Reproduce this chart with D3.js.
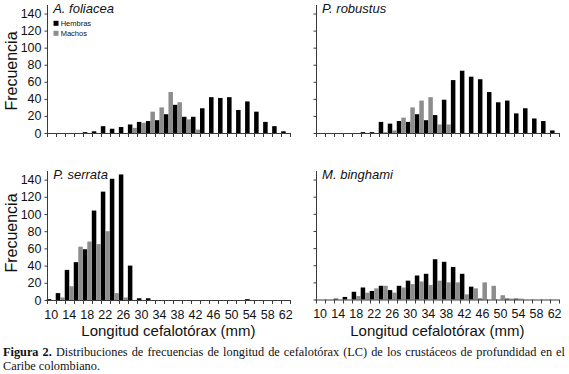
<!DOCTYPE html>
<html><head><meta charset="utf-8">
<script src="https://cdn.jsdelivr.net/npm/d3@7"></script>
<style>
html,body{margin:0;padding:0;background:#fff;}
svg{display:block;}
</style>
</head><body>
<svg id="chart" width="569" height="374"></svg>
<script>
// ---- data ----
const categories = ["10","12","14","16","18","20","22","24","26","28","30","32","34","36","38","40","42","44","46","48","50","52","54","56","58","60","62"];
const xTickLabels = ["10","14","18","22","26","30","34","38","42","46","50","54","58","62"];
const yTickValues = [0,20,40,60,80,100,120,140];
const seriesNames = ["Hembras","Machos"];
const speciesNames = ["A. foliacea","P. robustus","P. serrata","M. binghami"];

const foliaceaHembras = [0,0,0,0,1,2,8,5,7,10,13,14,15,22,33,19,19,29,42,41,42,27,37,25,13,8,2];
const foliaceaMachos  = [0,0,0,0,0,0,0,0,0,6,12,25,30,48,36,16,4,0,0,0,0,0,0,0,0,0,0];
const robustusHembras = [0,0,0,0,0,1,1,13,11,14,13,22,15,21,39,62,73,66,63,48,36,38,23,29,17,14,3];
const robustusMachos  = [0,0,0,0,0,0,0,1,3,18,30,38,42,10,10,0,0,0,0,0,0,0,0,0,0,0,0];
const serrataHembras  = [1,8,35,44,59,104,126,141,146,40,2,2,0,0,0,0,0,0,0,0,0,0,1,0,0,0,0];
const serrataMachos   = [0,3,16,62,68,65,80,8,3,0,0,0,0,0,0,0,0,0,0,0,0,0,0,0,0,0,0];
const binghamiHembras = [0,0,1,3,9,14,10,16,11,16,22,28,30,47,44,38,30,15,1,0,0,1,1,0,0,0,0];
const binghamiMachos  = [0,0,0,0,4,8,13,16,8,14,18,21,17,22,20,20,6,13,20,16,5,1,1,0,0,0,0];

const captionBold = "Figura 2.";
const captionLine1 = " Distribuciones de frecuencias de longitud de cefalotórax (LC) de los crustáceos de profundidad en el";
const captionLine2 = "Caribe colombiano.";
const yAxisTitle = "Frecuencia";
const xAxisTitle = "Longitud cefalotórax (mm)";

// ---- layout ----
const colors = {Hembras:"#000000", Machos:"#8d8d8d"};
const FONT = "'Liberation Sans', Arial, sans-serif";
const svg = d3.select("#chart");

const panels = [
  {title:speciesNames[0], h:foliaceaHembras, m:foliaceaMachos, x0:46.7, base:133, top:5,   yLabels:true,  xLabels:false, legend:true,  yTitleY:71},
  {title:speciesNames[1], h:robustusHembras, m:robustusMachos, x0:315.6, base:133, top:5,  yLabels:false, xLabels:false, legend:false},
  {title:speciesNames[2], h:serrataHembras,  m:serrataMachos,  x0:46.7, base:300, top:171, yLabels:true,  xLabels:true,  legend:false, yTitleY:233},
  {title:speciesNames[3], h:binghamiHembras, m:binghamiMachos, x0:315.6, base:299.5, top:171, yLabels:false, xLabels:true, legend:false}
];
const plotW = 243.5;

panels.forEach(p => {
  const g = svg.append("g");
  const x = d3.scaleBand().domain(categories).range([p.x0, p.x0 + plotW]).padding(0);
  const y = d3.scaleLinear().domain([0,150]).range([p.base, p.top]);
  const bw = x.bandwidth()/2;

  const rows = categories.map((c,i) => ({c, h:p.h[i], m:p.m[i]}));
  g.selectAll("rect.h").data(rows).join("rect")
    .attr("x", d => x(d.c)).attr("width", bw)
    .attr("y", d => y(d.h)).attr("height", d => y(0)-y(d.h))
    .attr("fill", colors.Hembras);
  g.selectAll("rect.m").data(rows).join("rect")
    .attr("x", d => x(d.c)+bw).attr("width", bw)
    .attr("y", d => y(d.m)).attr("height", d => y(0)-y(d.m))
    .attr("fill", colors.Machos);

  const bounds = categories.map(c => x(c)).concat([p.x0 + plotW]);
  g.append("line").attr("x1", p.x0).attr("x2", p.x0+plotW).attr("y1", p.base+0.5).attr("y2", p.base+0.5)
    .attr("stroke","#3a3a3a").attr("stroke-width",1);
  g.selectAll("line.xt").data(bounds).join("line")
    .attr("x1", d => Math.round(d)+0.5).attr("x2", d => Math.round(d)+0.5)
    .attr("y1", p.base).attr("y2", p.base+4)
    .attr("stroke","#3a3a3a").attr("stroke-width",1);

  const yAxis = d3.axisLeft(y).tickValues(yTickValues).tickSize(3).tickPadding(3)
    .tickFormat(p.yLabels ? d3.format("d") : () => "");
  const ya = g.append("g").attr("transform", `translate(${Math.round(p.x0)+0.5},0)`).call(yAxis);
  ya.select(".domain").attr("stroke","#3a3a3a").attr("d", `M0,${p.base}V${p.top}`);
  ya.selectAll(".tick line").attr("stroke","#3a3a3a");
  ya.selectAll("text").attr("font-family", FONT).attr("font-size", 12.5).attr("fill","#111");

  if (p.xLabels) {
    g.selectAll("text.xl").data(xTickLabels).join("text")
      .attr("x", d => x(d) + x.bandwidth()/2).attr("y", p.base + 18.5)
      .attr("text-anchor","middle").attr("font-family",FONT).attr("font-size",12.5).attr("fill","#111")
      .text(d => d);
    g.append("text").attr("x", p.x0 + plotW/2).attr("y", p.base + 36)
      .attr("text-anchor","middle").attr("font-family",FONT).attr("font-size",15).attr("fill","#111")
      .text(xAxisTitle);
  }
  if (p.yLabels) {
    g.append("text").attr("transform", `translate(17,${p.yTitleY}) rotate(-90)`)
      .attr("text-anchor","middle").attr("font-family",FONT).attr("font-size",16).attr("fill","#111")
      .text(yAxisTitle);
  }
  g.append("text").attr("x", p.x0 + 6.5).attr("y", p.top + 8)
    .attr("font-family",FONT).attr("font-style","italic").attr("font-size",13).attr("fill","#111")
    .text(p.title);

  if (p.legend) {
    const lg = g.append("g");
    seriesNames.forEach((s,i) => {
      lg.append("rect").attr("x", p.x0+6.8).attr("y", p.top + 15.8 + i*10).attr("width",5).attr("height",5).attr("fill", colors[s]);
      lg.append("text").attr("x", p.x0+14).attr("y", p.top + 21 + i*10)
        .attr("font-family",FONT).attr("font-size",7.5).attr("fill","#111").text(s);
    });
  }
});

// caption
const SERIF = "'Liberation Serif', 'Times New Roman', serif";
const c1 = svg.append("text").attr("x",3).attr("y",356).attr("font-family",SERIF).attr("font-size",12.3).attr("fill","#111");
c1.append("tspan").attr("font-weight","bold").text(captionBold);
c1.append("tspan").text(captionLine1);
const w = c1.node().getComputedTextLength();
const spaces = (captionBold + captionLine1).split(" ").length - 1;
const target = 562;
c1.attr("word-spacing", (target - w)/spaces);
svg.append("text").attr("x",3).attr("y",370).attr("font-family",SERIF).attr("font-size",12.3).attr("fill","#111")
  .text(captionLine2);
</script>
</body></html>
